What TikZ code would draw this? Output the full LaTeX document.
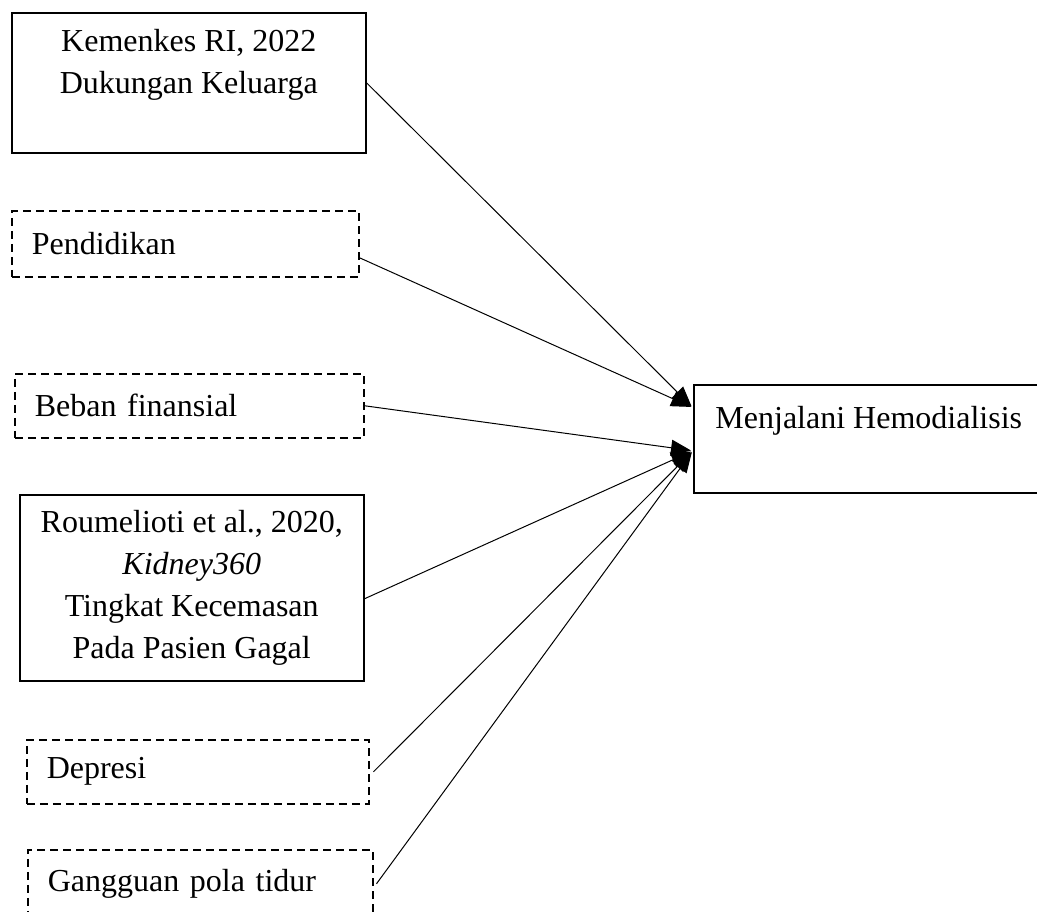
\documentclass[tikz,border=0pt]{standalone}
\usepackage{fontspec}
\setmainfont{Liberation Serif}
\usetikzlibrary{arrows.meta}

\begin{document}
\begin{tikzpicture}[x=0.5pt,y=-0.5pt,shorten >=1pt,>={Triangle[length=10pt,width=8pt]},
        every node/.style={font=\fontsize{16}{21}\selectfont},
        factor/.style={draw,line width=0.75pt,anchor=north west,inner sep=0pt},
        solidbox/.style={factor,align=center},
        dashbox/.style={factor,dash pattern=on 4pt off 2.5pt,align=left,inner xsep=10pt,text width=#1}]

      \useasboundingbox (0,0) rectangle (1037,911);
      \clip (0,0) rectangle (1037,911);

      \node[solidbox,minimum width=177pt,minimum height=70pt]  (f_1) at (11,12)
            {Kemenkes RI, 2022\\Dukungan Keluarga\\\mbox{}};
      \node[dashbox=153.5pt,minimum height=33pt]  (f_2) at (11,210)  {Pendidikan};
      \node[dashbox=154.5pt,minimum height=32pt]  (f_3) at (14,373)  {Beban finansial};
      \node[solidbox,minimum width=172pt,minimum height=93pt]  (f_4) at (19,494)
            {Roumelioti et al., 2020,\\\textit{Kidney360}\\Tingkat Kecemasan\\Pada Pasien Gagal};
      \node[dashbox=151pt,minimum height=32pt]    (f_5) at (26,739)  {Depresi};
      \node[dashbox=152.5pt,minimum height=34pt]  (f_6) at (27,849)  {Gangguan pola tidur};

      \node[solidbox,minimum width=175pt,minimum height=54pt]  (hd) at (693,384)
            {Menjalani Hemodialisis\\\mbox{}};

      \coordinate (hd_a) at ([yshift=15.5pt]hd.west);
      \coordinate (hd_b) at ([yshift=-6pt]hd.west);

      \path[->,line width=0.5pt]
                (f_1.east) edge (hd_a)
                ([yshift=-7pt]f_2.east) edge (hd_a)
                (f_3.east) edge (hd_b)
                ([yshift=-5.5pt]f_4.east) edge (hd_b)
                ([xshift=2pt]f_5.east) edge (hd_b)
                ([xshift=1.5pt]f_6.east) edge (hd_b);
    \end{tikzpicture}
\end{document}
